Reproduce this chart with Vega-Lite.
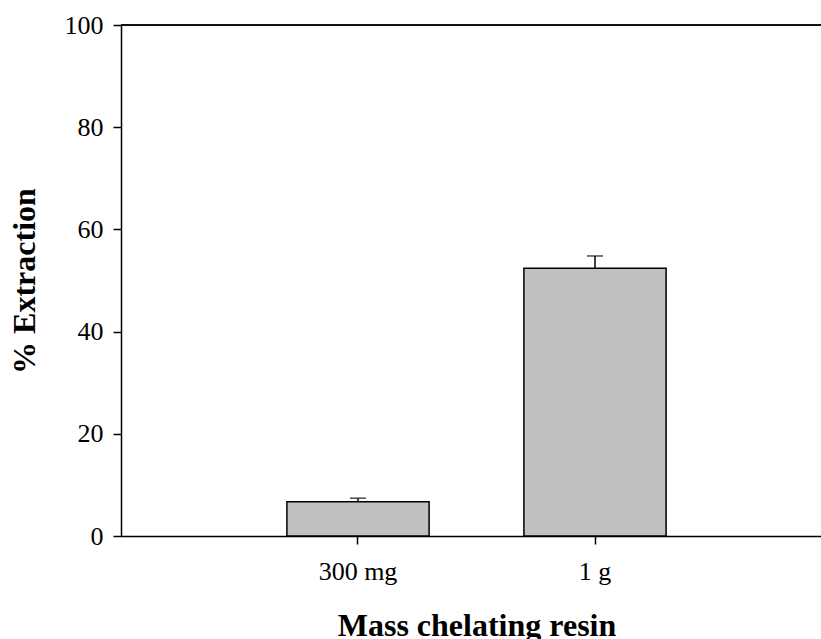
{
  "$schema": "https://vega.github.io/schema/vega-lite/v6.json",
  "width": 711,
  "height": 511,
  "autosize": {"type": "none"},
  "padding": {"left": 121, "top": 25, "right": 0, "bottom": 103},
  "background": "white",
  "config": {
    "view": {"stroke": null},
    "font": "Liberation Serif",
    "axis": {
      "domainColor": "black",
      "domainWidth": 1.5,
      "tickColor": "black",
      "tickWidth": 1.5,
      "tickSize": 8,
      "labelFont": "Liberation Serif",
      "labelFontSize": 26,
      "labelColor": "black",
      "titleFont": "Liberation Serif",
      "titleFontSize": 32,
      "titleFontWeight": "bold",
      "titleColor": "black",
      "grid": false
    }
  },
  "data": {
    "values": [
      {"mass": "300 mg", "extraction": 6.7, "upper": 7.4},
      {"mass": "1 g", "extraction": 52.4, "upper": 54.8}
    ]
  },
  "layer": [
    {
      "mark": {"type": "rule", "color": "black", "strokeWidth": 1.5},
      "encoding": {"y": {"datum": 100, "type": "quantitative"}}
    },
    {
      "mark": {"type": "bar", "fill": "#c0c0c0", "stroke": "black", "strokeWidth": 1.5},
      "encoding": {
        "x": {
          "field": "mass",
          "type": "nominal",
          "sort": ["300 mg", "1 g"],
          "scale": {"paddingInner": 0.4, "paddingOuter": 0.7},
          "axis": {
            "title": "Mass chelating resin",
            "labelAngle": 0,
            "labelPadding": 14,
            "titleY": 99,
            "titleBaseline": "alphabetic"
          }
        },
        "y": {
          "field": "extraction",
          "type": "quantitative",
          "scale": {"domain": [0, 100], "nice": false},
          "axis": {
            "title": "% Extraction",
            "values": [0, 20, 40, 60, 80, 100],
            "labelPadding": 10,
            "titleX": -87,
            "titleBaseline": "alphabetic",
            "titleAngle": 270
          }
        }
      }
    },
    {
      "mark": {"type": "rule", "color": "black", "strokeWidth": 1.5},
      "encoding": {
        "x": {"field": "mass", "type": "nominal", "sort": ["300 mg", "1 g"]},
        "y": {"field": "extraction", "type": "quantitative"},
        "y2": {"field": "upper"}
      }
    },
    {
      "mark": {"type": "tick", "color": "black", "thickness": 1.5, "size": 16},
      "encoding": {
        "x": {"field": "mass", "type": "nominal", "sort": ["300 mg", "1 g"]},
        "y": {"field": "upper", "type": "quantitative"}
      }
    }
  ]
}
